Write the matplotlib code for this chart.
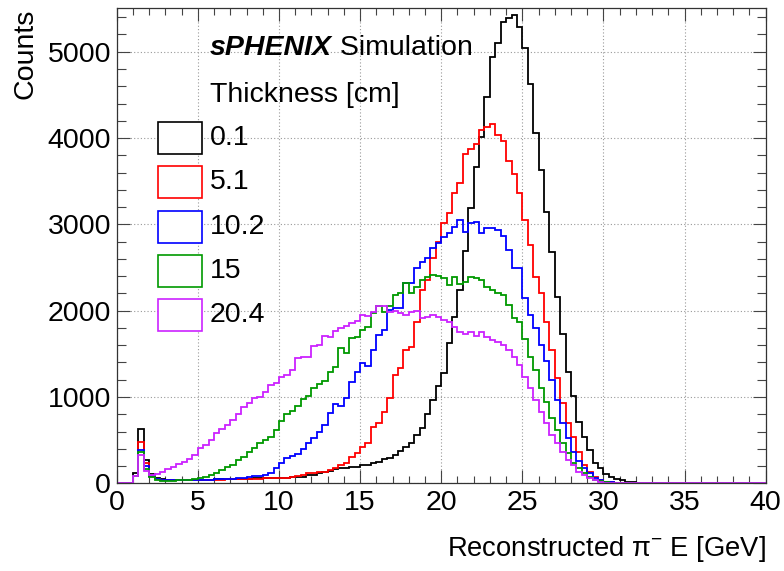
import numpy as np
import matplotlib
matplotlib.use("Agg")
import matplotlib.pyplot as plt
from matplotlib.patches import Rectangle
from matplotlib.ticker import MultipleLocator

plt.rcParams["font.family"] = ["Liberation Sans", "DejaVu Sans"]
plt.rcParams["mathtext.fontset"] = "custom"
plt.rcParams["mathtext.rm"] = "Liberation Sans"

# 120 bins of 1/3 GeV between 0 and 40 GeV
bin_edges = np.linspace(0, 40, 121)

counts_0p1 = [
    0, 0, 0, 120, 626, 275, 108, 60, 45, 40,
    35, 35, 35, 38, 38, 40, 40, 42, 45, 45,
    48, 50, 52, 55, 55, 58, 60, 60, 58, 60,
    62, 65, 68, 77, 77, 96, 96, 120, 135, 140,
    160, 174, 174, 190, 193, 212, 212, 240, 251, 280,
    290, 330, 370, 420, 470, 560, 640, 800, 960, 1130,
    1282, 1629, 1931, 2240, 2695, 3187, 3668, 4016, 4473, 4936,
    5098, 5349, 5388, 5427, 5291, 5040, 4623, 4056, 3630, 3147,
    2684, 2162, 1730, 1293, 1012, 714, 540, 386, 232, 174,
    108, 77, 50, 39, 19, 12, 5, 3, 2, 1,
    0, 0, 0, 0, 0, 0, 0, 0, 0, 0,
    0, 0, 0, 0, 0, 0, 0, 0, 0, 0,
]
counts_5p1 = [
    0, 0, 0, 80, 482, 240, 85, 46, 40, 38,
    35, 35, 35, 36, 38, 38, 40, 40, 42, 42,
    45, 45, 48, 50, 50, 52, 55, 58, 58, 58,
    60, 65, 70, 85, 100, 116, 120, 135, 135, 150,
    174, 212, 232, 309, 347, 425, 463, 656, 695, 830,
    985, 1250, 1333, 1544, 1580, 1873, 2240, 2356, 2607, 2800,
    3013, 3129, 3360, 3476, 3816, 3870, 3932, 4094, 4133, 4164,
    4036, 3971, 3738, 3584, 3367, 3051, 2761, 2394, 2202, 1873,
    1545, 1217, 927, 695, 541, 367, 212, 135, 77, 39,
    19, 12, 5, 3, 1, 0, 0, 0, 0, 0,
    0, 0, 0, 0, 0, 0, 0, 0, 0, 0,
    0, 0, 0, 0, 0, 0, 0, 0, 0, 0,
]
counts_10p2 = [
    0, 0, 0, 80, 386, 200, 85, 46, 40, 38,
    35, 35, 35, 38, 38, 40, 40, 42, 45, 48,
    50, 55, 58, 65, 75, 80, 85, 100, 125, 175,
    240, 290, 320, 340, 395, 470, 520, 590, 680, 810,
    919, 896, 985, 1178, 1294, 1391, 1364, 1545, 1719, 1777,
    2008, 2027, 2028, 2317, 2317, 2491, 2569, 2608, 2723, 2781,
    2858, 2897, 2974, 3051, 2916, 3013, 3032, 2897, 2955, 2955,
    2935, 2866, 2703, 2491, 2500, 2144, 1950, 1800, 1600, 1420,
    1200, 960, 700, 520, 360, 260, 180, 116, 65, 39,
    20, 10, 5, 2, 1, 0, 0, 0, 0, 0,
    0, 0, 0, 0, 0, 0, 0, 0, 0, 0,
    0, 0, 0, 0, 0, 0, 0, 0, 0, 0,
]
counts_15 = [
    0, 0, 0, 80, 359, 162, 70, 40, 30, 30,
    32, 35, 38, 40, 45, 58, 77, 96, 116, 154,
    193, 212, 270, 309, 367, 405, 463, 502, 540, 618,
    720, 800, 840, 900, 975, 1010, 1100, 1150, 1190, 1294,
    1352, 1564, 1506, 1680, 1700, 1777, 1815, 1970, 2055, 1989,
    2055, 2182, 2209, 2317, 2202, 2279, 2356, 2395, 2414, 2402,
    2375, 2298, 2395, 2310, 2337, 2395, 2375, 2356, 2279, 2240,
    2202, 2182, 2066, 1912, 1873, 1668, 1468, 1313, 1100, 946,
    753, 618, 463, 348, 232, 174, 116, 77, 39, 27,
    15, 8, 4, 2, 1, 0, 0, 0, 0, 0,
    0, 0, 0, 0, 0, 0, 0, 0, 0, 0,
    0, 0, 0, 0, 0, 0, 0, 0, 0, 0,
]
counts_20p4 = [
    0, 0, 0, 80, 330, 140, 96, 105, 135, 160,
    190, 225, 250, 280, 330, 405, 440, 500, 580, 630,
    680, 730, 800, 880, 930, 985, 1000, 1060, 1140, 1166,
    1236, 1255, 1313, 1448, 1468, 1468, 1591, 1603, 1707, 1692,
    1765, 1803, 1823, 1854, 1881, 1950, 1939, 1989, 2055, 2055,
    1989, 2001, 1970, 1950, 1989, 2001, 1912, 1931, 1950, 1931,
    1893, 1873, 1815, 1758, 1730, 1758, 1707, 1758, 1700, 1661,
    1642, 1603, 1545, 1468, 1371, 1236, 1100, 965, 830, 695,
    560, 463, 367, 270, 212, 135, 96, 58, 39, 19,
    8, 4, 2, 1, 0, 0, 0, 0, 0, 0,
    0, 0, 0, 0, 0, 0, 0, 0, 0, 0,
    0, 0, 0, 0, 0, 0, 0, 0, 0, 0,
]

thickness_labels = ["0.1", "5.1", "10.2", "15", "20.4"]
series = [counts_0p1, counts_5p1, counts_10p2, counts_15, counts_20p4]
colors = ["#000000", "#ff0000", "#0000ff", "#009900", "#cc22ff"]

W, H = 784, 571
FS = 20.5


def fx(px):
    return px / W


def fy(py):
    return 1 - py / H


fig = plt.figure(figsize=(W / 100, H / 100), dpi=100)
ax = fig.add_axes([fx(116.7), fy(483.3), (765.7 - 116.7) / W, (483.3 - 8) / H])

for vals, col in zip(series, colors):
    ax.stairs(vals, bin_edges, color=col, lw=1.3)

ax.set_xlim(0, 40)
ax.set_ylim(0, 5507)
ax.xaxis.set_major_locator(MultipleLocator(5))
ax.xaxis.set_minor_locator(MultipleLocator(1))
ax.yaxis.set_major_locator(MultipleLocator(1000))
ax.yaxis.set_minor_locator(MultipleLocator(200))
ax.grid(True, which="major", ls=(0, (1, 2)), color="#999999", lw=0.8)
ax.set_axisbelow(True)
ax.tick_params(which="both", direction="in", top=True, right=True,
               labelsize=FS, width=0.8, color="#444444")
ax.tick_params(which="major", length=9.5, pad=5)
ax.tick_params(axis="x", which="minor", length=5)
ax.tick_params(axis="y", which="minor", length=6.5)
ax.tick_params(axis="y", pad=4)
for s in ax.spines.values():
    s.set_linewidth(0.9)
    s.set_color("#333333")

fig.text(fx(25), fy(9), "Counts", rotation=90, ha="center", va="top", fontsize=FS)
fig.text(fx(766), fy(549), r"Reconstructed π$^{-}$ E [GeV]", ha="right",
         va="center", fontsize=19.7)

# legend block
t1 = fig.text(fx(210), fy(48), "sPHENIX", fontsize=FS, weight="bold",
              style="italic", va="center")
fig.canvas.draw()
bb = t1.get_window_extent()
fig.text(bb.x1 / W, fy(48), " Simulation", fontsize=FS, va="center")
fig.text(fx(210), fy(95), "Thickness [cm]", fontsize=FS, va="center")

for i, (lab, col) in enumerate(zip(thickness_labels, colors)):
    top = 122 + 44.3 * i
    fig.patches.append(Rectangle((fx(158), fy(top + 32)), 44 / W, 32 / H,
                                 transform=fig.transFigure, facecolor="white",
                                 edgecolor=col, lw=1.2))
    fig.text(fx(210), fy(top + 16), lab, fontsize=FS, va="center")

fig.savefig("out.png", dpi=100)
